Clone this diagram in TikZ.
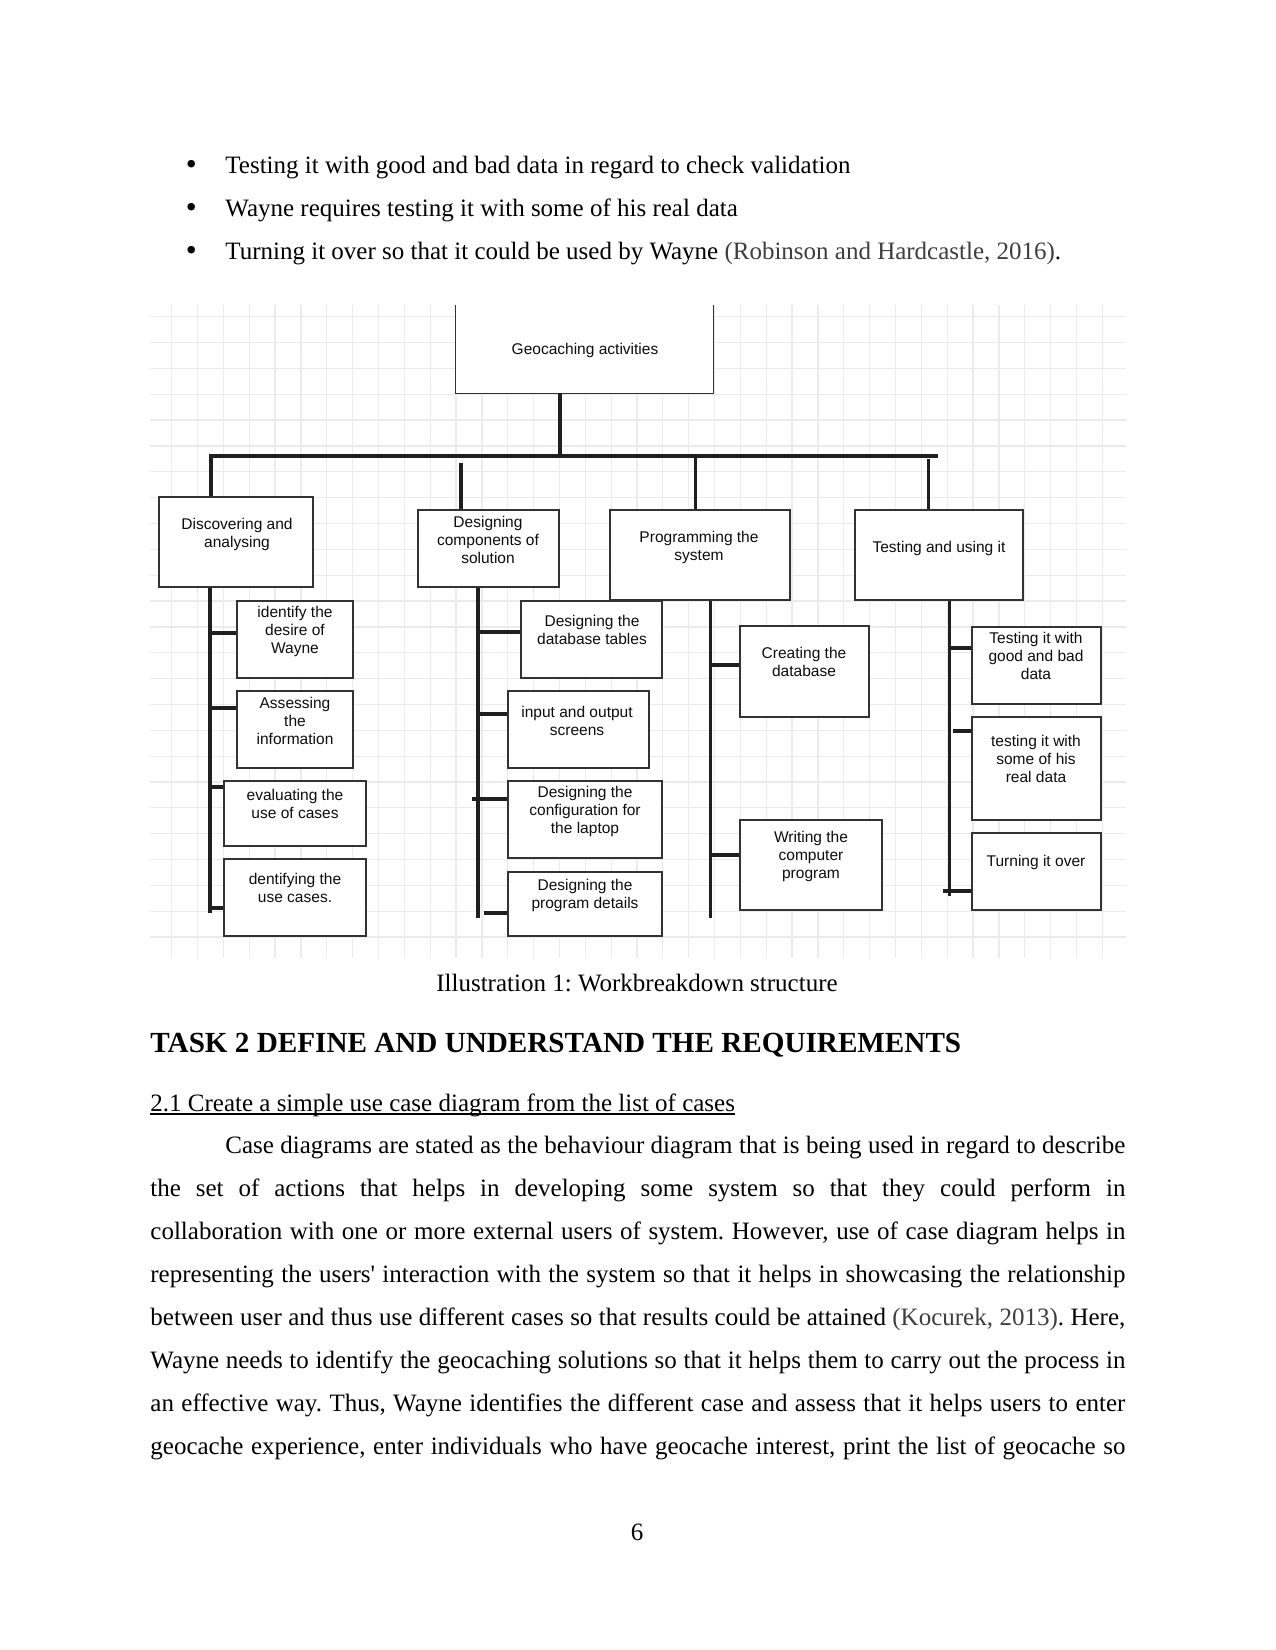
\documentclass[tikz,border=0pt]{standalone}
\usepackage{fontspec}
\setmainfont{Liberation Serif}[Ligatures=TeXOff]
\newfontfamily\diagfont{Liberation Sans}
\usetikzlibrary{fit}
\definecolor{gridc}{RGB}{233,235,241}
\definecolor{citec}{RGB}{62,62,62}
\frenchspacing
\tikzset{
  box/.style={draw=black!80, line width=0.8pt, fill=white, inner sep=0pt},
  nobox/.style={fill=white, inner sep=0pt},
  dtxt/.style={font=\diagfont\fontsize{7.45}{8.65}\selectfont, align=center, inner sep=0pt, text=black!95},
  conn/.style={line width=1.45pt, draw=black!88},
  body/.style={font=\fontsize{12}{14}\selectfont, inner sep=0pt, anchor=base west},
  bul/.style={font=\fontsize{15}{16}\selectfont, inner sep=0pt, anchor=base west},
}
\begin{document}
\begin{tikzpicture}[x=0.48pt,y=-0.48pt]
\useasboundingbox[fill=white] (0,0) rectangle (1275,1650);

% ---- bullets
\node[bul] (bu1) at (185.5,175) {\textbullet};
\node[body] (t1) at (225,174) {Testing it with good and bad data in regard to check validation};
\node[bul] (bu2) at (185.5,218) {\textbullet};
\node[body] (t2) at (225,217) {Wayne requires testing it with some of his real data};
\node[bul] (bu3) at (185.5,261) {\textbullet};
\node[body] (t3) at (225,260) {Turning it over so that it could be used by Wayne {\color{citec}(Robinson and Hardcastle, 2016)}.};

% ---- grid
\foreach \i in {0,...,36} \draw[gridc, line width=0.6pt] ({171.7+25.85*\i},305) -- ({171.7+25.85*\i},958);
\foreach \j in {0,...,24} \draw[gridc, line width=0.6pt] (150,{316.7+25.85*\j}) -- (1126,{316.7+25.85*\j});

% ---- top box
\node[nobox, fit={(456,305) (713,393)}] (geo) {};
\draw[draw=black!80, line width=0.8pt] (geo.north west) -- (geo.south west) -- (geo.south east) -- (geo.north east);
\node[dtxt] (geot) at (585,350.5) {Geocaching activities};

% ---- level 1 boxes
\node[box, fit={(159,497) (313,587)}] (disc) {};
\node[dtxt] (disct) at (237,534) {Discovering and\\analysing};
\node[box, fit={(418,510) (559,587)}] (dcomp) {};
\node[dtxt] (dcompt) at (488,540) {Designing\\components of\\solution};
\node[box, fit={(610,510) (790,600)}] (prog) {};
\node[dtxt] (progt) at (699,547.5) {Programming the\\system};
\node[box, fit={(855,510) (1023,600)}] (test) {};
\node[dtxt] (testt) at (939,548) {Testing and using it};

% ---- level 2 boxes
\node[box, fit={(237,601) (353,678)}] (iden) {};
\node[dtxt] (ident) at (295,631.5) {identify the\\desire of\\Wayne};
\node[box, fit={(237,691) (353,768)}] (assess) {};
\node[dtxt] (assesst) at (295,720.5) {Assessing\\the\\information};
\node[box, fit={(224,781) (366,846)}] (eval) {};
\node[dtxt] (evalt) at (295,804) {evaluating the\\use of cases};
\node[box, fit={(224,859) (366,936)}] (dent) {};
\node[dtxt] (dentt) at (295,888) {dentifying the\\use cases.};

\node[box, fit={(521,601) (662,678)}] (dbt) {};
\node[dtxt] (dbtt) at (592,630) {Designing the\\database tables};
\node[box, fit={(508,691) (649,768)}] (io) {};
\node[dtxt] (iot) at (577,720.5) {input and output\\screens};
\node[box, fit={(508,781) (662,858)}] (conf) {};
\node[dtxt] (conft) at (585,811.5) {Designing the\\configuration for\\the laptop};
\node[box, fit={(508,872) (662,936)}] (pdet) {};
\node[dtxt] (pdett) at (585,895) {Designing the\\program details};

\node[box, fit={(740,626) (869,717)}] (cdb) {};
\node[dtxt] (cdbt) at (804,662) {Creating the\\database};
\node[box, fit={(740,820) (882,910)}] (write) {};
\node[dtxt] (writet) at (811,856.5) {Writing the\\computer\\program};

\node[box, fit={(972,627) (1101,704)}] (tgood) {};
\node[dtxt] (tgoodt) at (1036,655.5) {Testing it with\\good and bad\\data};
\node[box, fit={(972,717) (1101,820)}] (treal) {};
\node[dtxt] (trealt) at (1036,759) {testing it with\\some of his\\real data};
\node[box, fit={(972,833) (1101,910)}] (turn) {};
\node[dtxt] (turnt) at (1036,862) {Turning it over};

% ---- top connectors
\coordinate (top) at (560,458);
\coordinate (barL) at (211,456);
\coordinate (barR) at (938,456);
\draw[conn] (top |- geo.south) -- (top);
\draw[conn] (barL |- disc.north) -- (barL) -- (barR);
\coordinate (dr2) at (461,463);
\draw[conn] (dr2) -- (dr2 |- dcomp.north);
\coordinate (dr3) at (695,456);
\draw[conn] (dr3) -- (dr3 |- prog.north);
\coordinate (dr4) at (928,459);
\draw[conn] (dr4) -- (dr4 |- test.north);

% ---- column spines
\coordinate (s1) at (210,913);
\draw[conn] (s1 |- disc.south) -- (s1);
\coordinate (s2) at (478,918);
\draw[conn] (s2 |- dcomp.south) -- (s2);
\coordinate (s3) at (710,918);
\draw[conn] (s3 |- prog.south) -- (s3);
\coordinate (s4) at (949,896);
\draw[conn] (s4 |- test.south) -- (s4);

% ---- stubs
\coordinate (a1) at (210,633); \draw[conn] (a1) -- (a1 -| iden.west);
\coordinate (a2) at (210,708); \draw[conn] (a2) -- (a2 -| assess.west);
\coordinate (a3) at (210,787); \draw[conn] (a3) -- (a3 -| eval.west);
\coordinate (a4) at (210,908); \draw[conn] (a4) -- (a4 -| dent.west);

\coordinate (c1) at (478,632); \draw[conn] (c1) -- (c1 -| dbt.west);
\coordinate (c2) at (478,714); \draw[conn] (c2) -- (c2 -| io.west);
\coordinate (c3) at (472,799); \draw[conn] (c3) -- (c3 -| conf.west);
\coordinate (c4) at (484,913); \draw[conn] (c4) -- (c4 -| pdet.west);

\coordinate (p1c) at (710,665); \draw[conn] (p1c) -- (p1c -| cdb.west);
\coordinate (p2c) at (710,855); \draw[conn] (p2c) -- (p2c -| write.west);

\coordinate (q1) at (949,648); \draw[conn] (q1) -- (q1 -| tgood.west);
\coordinate (q2) at (953,731); \draw[conn] (q2) -- (q2 -| treal.west);
\coordinate (q3) at (943,891); \draw[conn] (q3) -- (q3 -| turn.west);

% ---- caption and text below
\node[font=\fontsize{12}{14}\selectfont, inner sep=0pt, anchor=base] (cap) at (637,991) {Illustration 1: Workbreakdown structure};
\node[font=\bfseries\fontsize{14}{16}\selectfont, inner sep=0pt, anchor=base west] (head) at (150,1052.5) {TASK 2 DEFINE AND UNDERSTAND THE REQUIREMENTS};
\node[body] (sub) at (150,1111) {2.1 Create a simple use case diagram from the list of cases};
\draw[line width=0.6pt] ([yshift=-1.4pt]sub.base west) -- ([yshift=-1.4pt]sub.base east);

\node[body] (l1) at (225,1153) {\makebox[432pt][s]{Case diagrams are stated as the behaviour diagram that is being used in regard to describe}};
\node[body] (l2) at (150,1196.1) {\makebox[468pt][s]{the set of actions that helps in developing some system so that they could perform in}};
\node[body] (l3) at (150,1239.2) {\makebox[468pt][s]{collaboration with one or more external users of system. However, use of case diagram helps in}};
\node[body] (l4) at (150,1282.3) {\makebox[468pt][s]{representing the users' interaction with the system so that it helps in showcasing the relationship}};
\node[body] (l5) at (150,1325.4) {\makebox[468pt][s]{between user and thus use different cases so that results could be attained {\color{citec}(Kocurek, 2013)}. Here,}};
\node[body] (l6) at (150,1368.5) {\makebox[468pt][s]{Wayne needs to identify the geocaching solutions so that it helps them to carry out the process in}};
\node[body] (l7) at (150,1411.6) {\makebox[468pt][s]{an effective way. Thus, Wayne identifies the different case and assess that it helps users to enter}};
\node[body] (l8) at (150,1454.7) {\makebox[468pt][s]{geocache experience, enter individuals who have geocache interest, print the list of geocache so}};

\node[font=\fontsize{12}{14}\selectfont, inner sep=0pt, anchor=base] (pg) at (637,1540) {6};
\end{tikzpicture}
\end{document}
